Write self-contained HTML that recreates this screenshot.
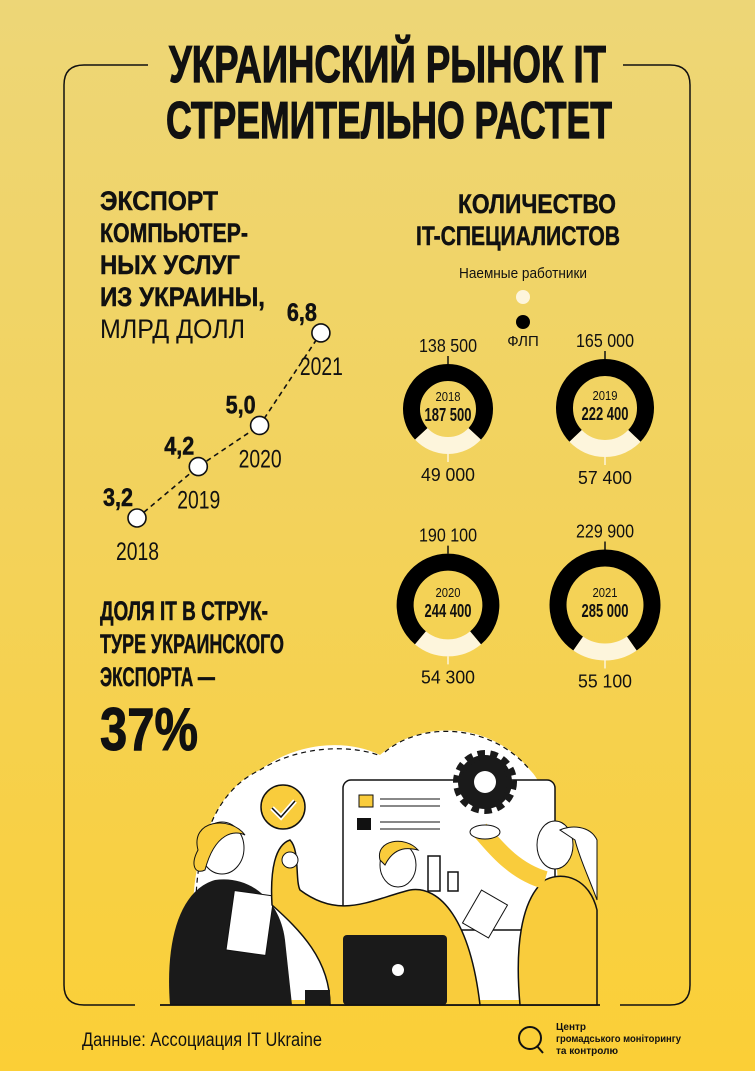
<!DOCTYPE html>
<html><head><meta charset="utf-8">
<style>
html,body{margin:0;padding:0;}
body{width:755px;height:1071px;overflow:hidden;font-family:"Liberation Sans",sans-serif;}
svg{display:block}
text{font-family:"Liberation Sans",sans-serif;}
</style></head>
<body>
<svg id="root" width="755" height="1071" viewBox="0 0 755 1071">
<defs>
<linearGradient id="bg" x1="0" y1="0" x2="0" y2="1">
<stop offset="0" stop-color="#EDD677"/>
<stop offset="0.5" stop-color="#F3D25A"/>
<stop offset="1" stop-color="#FBCF36"/>
</linearGradient>
</defs>
<rect width="755" height="1071" fill="url(#bg)"/>
<path d="M148,65 H84 Q64,65 64,85 V985 Q64,1005 84,1005 H135 M160,1005 H600 M620,1005 H670 Q690,1005 690,985 V85 Q690,65 670,65 H623" fill="none" stroke="#111" stroke-width="1.5"/>
<g font-weight="bold" fill="#111" stroke="#111" stroke-width="1.2">
<text x="169" y="82" font-size="52" textLength="437" lengthAdjust="spacingAndGlyphs">УКРАИНСКИЙ РЫНОК IT</text>
<text x="166" y="138" font-size="52" textLength="446" lengthAdjust="spacingAndGlyphs">СТРЕМИТЕЛЬНО РАСТЕТ</text>
</g>
<g fill="#111" font-size="27">
<text x="100" y="210" font-weight="bold" stroke="#111" stroke-width="0.5" textLength="118" lengthAdjust="spacingAndGlyphs">ЭКСПОРТ</text>
<text x="100" y="242" font-weight="bold" stroke="#111" stroke-width="0.5" textLength="148" lengthAdjust="spacingAndGlyphs">КОМПЬЮТЕР-</text>
<text x="100" y="274" font-weight="bold" stroke="#111" stroke-width="0.5" textLength="140" lengthAdjust="spacingAndGlyphs">НЫХ УСЛУГ</text>
<text x="100" y="306" font-weight="bold" stroke="#111" stroke-width="0.5" textLength="165" lengthAdjust="spacingAndGlyphs">ИЗ УКРАИНЫ,</text>
<text x="100" y="338" textLength="145" lengthAdjust="spacingAndGlyphs">МЛРД ДОЛЛ</text>
</g>
<g id="lineChart"></g>
<g fill="#111" font-weight="bold" stroke="#111" stroke-width="0.5">
<text x="100" y="620" font-size="27" textLength="168" lengthAdjust="spacingAndGlyphs">ДОЛЯ IT В СТРУК-</text>
<text x="100" y="653" font-size="27" textLength="184" lengthAdjust="spacingAndGlyphs">ТУРЕ УКРАИНСКОГО</text>
<text x="100" y="686" font-size="27" textLength="115" lengthAdjust="spacingAndGlyphs">ЭКСПОРТА —</text>
<text x="100" y="750" font-size="60" stroke-width="1" textLength="98" lengthAdjust="spacingAndGlyphs">37%</text>
</g>
<g fill="#111" font-weight="bold" font-size="27" stroke="#111" stroke-width="0.5">
<text x="458" y="213" textLength="158" lengthAdjust="spacingAndGlyphs">КОЛИЧЕСТВО</text>
<text x="416" y="245" textLength="204" lengthAdjust="spacingAndGlyphs">IT-СПЕЦИАЛИСТОВ</text>
</g>
<g fill="#111">
<text x="523" y="278" font-size="15" text-anchor="middle" textLength="128" lengthAdjust="spacingAndGlyphs">Наемные работники</text>
<circle cx="523" cy="297" r="7" fill="#FDF5DC"/>
<circle cx="523" cy="322" r="7" fill="#000"/>
<text x="523" y="346" font-size="15" text-anchor="middle">ФЛП</text>
</g>
<g id="donuts"></g>

<g>
<path d="M205,1000 C180,930 190,800 260,770 C300,740 350,740 380,755 C420,720 490,720 530,770 C560,800 560,900 560,1000 Z" fill="#fff"/>
<path d="M205,990 C185,900 195,800 260,770 C300,745 350,745 378,755 M385,752 C420,722 490,722 530,770" fill="none" stroke="#111" stroke-width="1.2" stroke-dasharray="5,4"/>
<rect x="343" y="780" width="212" height="150" rx="8" fill="#fff" stroke="#111" stroke-width="1.5"/>
<rect x="359" y="795" width="14" height="12" fill="#F9CC3C" stroke="#111"/>
<rect x="357" y="818" width="14" height="12" fill="#111"/>
<line x1="380" y1="799" x2="440" y2="799" stroke="#111"/><line x1="380" y1="806" x2="440" y2="806" stroke="#111"/>
<line x1="380" y1="822" x2="440" y2="822" stroke="#111"/><line x1="380" y1="829" x2="440" y2="829" stroke="#111"/>
<rect x="428" y="856" width="12" height="35" fill="none" stroke="#111" stroke-width="1.5"/>
<rect x="448" y="872" width="10" height="19" fill="none" stroke="#111" stroke-width="1.5"/>
<circle cx="485" cy="782" r="27" fill="#1a1a1a" stroke="#1a1a1a" stroke-width="10" stroke-dasharray="7,5"/>
<circle cx="485" cy="782" r="11" fill="#fff"/>
<circle cx="283" cy="807" r="22" fill="#F9CC3C" stroke="#111" stroke-width="1.5"/>
<path d="M272,808 L281,817 L295,801" fill="none" stroke="#fff" stroke-width="5"/>
<path d="M272,808 L281,817 L295,801" fill="none" stroke="#111" stroke-width="1.5"/>
<path d="M170,1005 C165,940 180,890 215,880 C250,875 280,900 285,940 L292,1005 Z" fill="#1a1a1a"/>
<ellipse cx="222" cy="848" rx="22" ry="26" fill="#fff" stroke="#111"/>
<path d="M198,850 C190,820 230,815 245,835 C235,830 215,832 205,870 C195,875 190,865 198,850 Z" fill="#F9CC3C" stroke="#111"/>
<rect x="230" y="893" width="40" height="60" fill="#fff" stroke="#111" transform="rotate(8 250 923)"/>
<path d="M272,905 C270,870 275,845 290,840 C300,850 295,880 300,890 C340,920 370,900 410,890 C440,885 470,920 480,1005 L330,1005 C330,960 300,930 272,905 Z" fill="#F9CC3C" stroke="#111" stroke-width="1.5"/>
<ellipse cx="398" cy="865" rx="18" ry="22" fill="#fff" stroke="#111"/>
<path d="M380,860 C375,840 405,835 418,850 C410,848 395,845 385,865 Z" fill="#F9CC3C" stroke="#111"/>
<circle cx="290" cy="860" r="8" fill="#fff" stroke="#111"/>
<rect x="343" y="935" width="104" height="70" rx="4" fill="#1a1a1a"/>
<circle cx="398" cy="970" r="6" fill="#fff"/>
<path d="M305,1005 L305,990 L330,990 L330,1005 Z" fill="#1a1a1a"/>
<path d="M520,1005 C515,950 520,900 545,880 C565,870 590,880 597,910 L597,1005 Z" fill="#F9CC3C" stroke="#111" stroke-width="1.5"/>
<path d="M545,880 C510,870 490,840 480,830" fill="none" stroke="#F9CC3C" stroke-width="18"/>
<ellipse cx="555" cy="845" rx="18" ry="24" fill="#fff" stroke="#111"/>
<path d="M575,840 C580,860 590,880 597,900 L597,840 C590,825 570,825 560,830 Z" fill="#fff" stroke="#111"/>
<rect x="470" y="895" width="30" height="38" fill="#fff" stroke="#111" transform="rotate(30 485 914)"/>
<ellipse cx="485" cy="832" rx="15" ry="7" fill="#fff" stroke="#111"/>
<line x1="160" y1="1005" x2="600" y2="1005" stroke="#111" stroke-width="1.5"/>
</g>

<text x="82" y="1046" font-size="19" fill="#111" textLength="240" lengthAdjust="spacingAndGlyphs">Данные: Ассоциация IT Ukraine</text>
<g fill="#111">
<circle cx="530" cy="1038" r="11" fill="none" stroke="#111" stroke-width="2"/>
<line x1="537" y1="1046" x2="543" y2="1053" stroke="#111" stroke-width="2"/>
<text x="556" y="1030" font-size="10" font-weight="bold">Центр</text>
<text x="556" y="1042" font-size="10" font-weight="bold" textLength="125" lengthAdjust="spacingAndGlyphs">громадського моніторингу</text>
<text x="556" y="1054" font-size="10" font-weight="bold">та контролю</text>
</g>
</svg>
<script>
const years = ["2018","2019","2020","2021"];
const exportValues = [3.2, 4.2, 5.0, 6.8];
const exportLabels = ["3,2","4,2","5,0","6,8"];
const donutYears = ["2018","2019","2020","2021"];
const flpCounts = [138500, 165000, 190100, 229900];
const hiredCounts = [49000, 57400, 54300, 55100];
const totalLabels = ["187 500","222 400","244 400","285 000"];
const flpLabels = ["138 500","165 000","190 100","229 900"];
const hiredLabels = ["49 000","57 400","54 300","55 100"];

const NS = "http://www.w3.org/2000/svg";
function mk(tag, attrs, parent){const e=document.createElementNS(NS,tag);for(const k in attrs)e.setAttribute(k,attrs[k]);parent.appendChild(e);return e;}
const xScale = i => 137 + i*61.3;
const yScale = v => 518 - (v-3.2)*51.4;
const lc = document.getElementById('lineChart');
let d = exportValues.map((v,i)=>(i?'L':'M')+xScale(i)+','+yScale(v)).join(' ');
const ln = mk('path',{d:d,fill:'none',stroke:'#111','stroke-width':1.6,'stroke-dasharray':'5,4'},lc);


exportValues.forEach((v,i)=>{
  const x=xScale(i), y=yScale(v);
  const c=mk('circle',{cx:x,cy:y,r:9,fill:'#fff',stroke:'#111','stroke-width':1.6},lc);
  
  
  const t=mk('text',{x:x-34,y:y-12,'font-size':25,'font-weight':'bold',fill:'#111',stroke:'#111','stroke-width':0.5,textLength:30,lengthAdjust:'spacingAndGlyphs'},lc);
  t.textContent=exportLabels[i];
  
  
  const yl=mk('text',{x:x-21,y:y+42,'font-size':25,fill:'#111',textLength:43,lengthAdjust:'spacingAndGlyphs'},lc);
  yl.textContent=years[i];
  
  
});
const dg=document.getElementById('donuts');
const cxs=[448,605,448,605], cys=[409,408,605,605];
const baseTotal = flpCounts[0]+hiredCounts[0];
const thick=17;
function arc(cx,cy,r,a0,a1){const p=a=>[cx+r*Math.sin(a),cy-r*Math.cos(a)];const [x0,y0]=p(a0),[x1,y1]=p(a1);const large=(a1-a0)>Math.PI?1:0;return `M${x0},${y0} A${r},${r} 0 ${large} 1 ${x1},${y1}`;}
donutYears.forEach((yr,i)=>{
  const total=flpCounts[i]+hiredCounts[i];
  const R=45*Math.sqrt(total/baseTotal);
  const r=R-thick/2;
  const cx=cxs[i], cy=cys[i];
  const hAng=hiredCounts[i]/total*2*Math.PI;
  const a0=Math.PI-hAng/2, a1=Math.PI+hAng/2;
  const g=mk('g',{},dg);
  
  
  const b=mk('path',{d:arc(cx,cy,r,a1-2*Math.PI,a0),fill:'none',stroke:'#000','stroke-width':thick},g);
  
  
  const w=mk('path',{d:arc(cx,cy,r,a0,a1),fill:'none',stroke:'#FDF5DC','stroke-width':thick},g);
  
  
  mk('line',{x1:cx,y1:cy-R,x2:cx,y2:cy-R-8,stroke:'#111','stroke-width':1.5},g);
  mk('line',{x1:cx,y1:cy+R,x2:cx,y2:cy+R+8,stroke:'#FDF5DC','stroke-width':1.5},g);
  const t1=mk('text',{x:cx,y:cy-R-12,'font-size':18,'text-anchor':'middle',fill:'#111',textLength:58,lengthAdjust:'spacingAndGlyphs'},g);
  t1.textContent=flpLabels[i];
  
  
  const t2=mk('text',{x:cx,y:cy+R+27,'font-size':18,'text-anchor':'middle',fill:'#111',textLength:54,lengthAdjust:'spacingAndGlyphs'},g);
  t2.textContent=hiredLabels[i];
  
  
  const t3=mk('text',{x:cx,y:cy-8,'font-size':13,'text-anchor':'middle',fill:'#111',textLength:25,lengthAdjust:'spacingAndGlyphs'},g);
  t3.textContent=yr;
  
  
  const t4=mk('text',{x:cx,y:cy+12,'font-size':18,'font-weight':'bold','text-anchor':'middle',fill:'#111',textLength:47,lengthAdjust:'spacingAndGlyphs'},g);
  t4.textContent=totalLabels[i];
  
  
});
</script>
</body></html>
